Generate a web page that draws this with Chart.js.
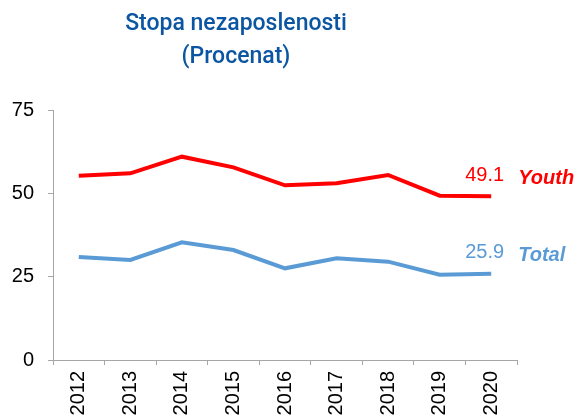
<!DOCTYPE html>
<html>
<head>
<meta charset="utf-8">
<script src="https://cdn.jsdelivr.net/npm/chart.js@4/dist/chart.umd.min.js"></script>
<style>
  html, body { margin: 0; padding: 0; background: #fff; overflow: hidden; }
  #wrap { width: 579px; height: 420px; }
</style>
</head>
<body>
<div id="wrap"><canvas id="line-chart"></canvas></div>
<script>
// datos
const years = ["2012", "2013", "2014", "2015", "2016", "2017", "2018", "2019", "2020"];
const youth = [55.3, 56.0, 61.0, 57.8, 52.4, 53.0, 55.5, 49.3, 49.1];
const total = [30.9, 30.0, 35.3, 33.0, 27.5, 30.5, 29.5, 25.6, 25.9];
const yTicks = [0, 25, 50, 75];
const titleLines = ["Stopa nezaposlenosti", "(Procenat)"];

const FONT = "'Liberation Sans', Arial, sans-serif";
const axisColor = "#A6A6A6";

// titulo centrado como en la imagen
const titlePlugin = {
  id: "titulo",
  afterDraw(chart) {
    const ctx = chart.ctx;
    ctx.save();
    ctx.fillStyle = "#0B56A2";
    ctx.font = "500 23px Roboto, " + FONT;
    ctx.textAlign = "center";
    ctx.textBaseline = "middle";
    ctx.fillText(titleLines[0], 236, 24);
    ctx.fillText(titleLines[1], 236, 57);
    ctx.restore();
  },
};

// etiquetas al final de cada linea
const endLabels = {
  id: "endLabels",
  afterDatasetsDraw(chart) {
    const ctx = chart.ctx;
    ctx.save();
    chart.data.datasets.forEach((ds, i) => {
      const meta = chart.getDatasetMeta(i);
      const last = meta.data[meta.data.length - 1];
      const value = ds.data[ds.data.length - 1];
      ctx.fillStyle = ds.borderColor;
      ctx.textBaseline = "middle";
      ctx.textAlign = "left";
      ctx.font = "20px " + FONT;
      ctx.fillText(value.toFixed(1), last.x - 26, last.y - 21);
      ctx.font = "italic bold 20px " + FONT;
      ctx.fillText(ds.label, last.x + 27, last.y - 18);
    });
    ctx.restore();
  },
};

const ctxLine = document.querySelector("#line-chart").getContext("2d");

const lineChart = new Chart(ctxLine, {
  type: "line",
  data: {
    labels: years,
    datasets: [
      {
        label: "Youth",
        data: youth,
        borderColor: "#FF0000",
        borderWidth: 4,
        pointRadius: 0,
        tension: 0,
      },
      {
        label: "Total",
        data: total,
        borderColor: "#5B9BD5",
        borderWidth: 4,
        pointRadius: 0,
        tension: 0,
      },
    ],
  },
  options: {
    responsive: true,
    maintainAspectRatio: false,
    animation: false,
    layout: { padding: { top: 110, right: 62, left: 0, bottom: 0 } },
    plugins: {
      legend: { display: false },
      title: { display: false },
      tooltip: { enabled: false },
    },
    scales: {
      x: {
        offset: true,
        grid: {
          offset: true,
          drawOnChartArea: false,
          drawTicks: true,
          tickLength: 5,
          color: axisColor,
        },
        border: { color: axisColor, width: 1 },
        ticks: {
          color: "#000",
          font: { size: 20, family: FONT },
          minRotation: 90,
          maxRotation: 90,
          padding: 6,
        },
        afterFit: (scale) => { scale.height = 60; },
      },
      y: {
        min: 0,
        max: 75,
        afterBuildTicks: (scale) => {
          scale.ticks = yTicks.map((v) => ({ value: v }));
        },
        grid: {
          drawOnChartArea: false,
          drawTicks: true,
          tickLength: 5,
          color: axisColor,
        },
        border: { color: axisColor, width: 1 },
        ticks: {
          color: "#000",
          font: { size: 20, family: FONT },
          padding: 14,
        },
        afterFit: (scale) => { scale.width = 53; },
      },
    },
  },
  plugins: [titlePlugin, endLabels],
});
</script>
</body>
</html>
